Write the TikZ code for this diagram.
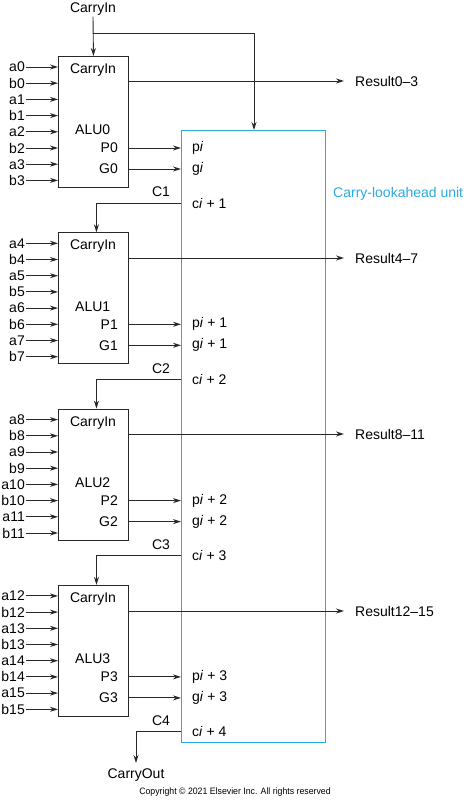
\documentclass[tikz,border=0pt]{standalone}
\usepackage{fontspec}
\setmainfont{Liberation Sans}
\usetikzlibrary{arrows.meta,calc}
\definecolor{clu}{RGB}{41,170,225}
\definecolor{ln}{RGB}{40,40,40}
\begin{document}
\begin{tikzpicture}[x=1pt,y=-1pt,
  every node/.style={font=\fontsize{14}{16}\selectfont, inner sep=1pt},
  wire/.style={draw=ln, line width=0.9pt},
  arr/.style={wire, -{Stealth[length=8pt,width=5pt]}},
  alubox/.style={draw=ln, line width=0.9pt, minimum width=70pt, minimum height=131pt, anchor=north west, inner sep=0pt},
  clubox/.style={draw=clu, line width=1.3pt, minimum width=144pt, minimum height=612pt, anchor=north west, inner sep=0pt},
  inlbl/.style={anchor=east},
  clulbl/.style={anchor=west},
]
\useasboundingbox (0,0) rectangle (469,800);

% carry-lookahead unit
\node[clubox] (clu) at (181,130) {};
\node[anchor=west, text=clu] (clutitle) at (332,194) {Carry-lookahead unit};

% top carry in
\node (cin) at (93,9) {CarryIn};
\coordinate (br) at (93,33);
\coordinate (cluin) at (254,130);

\foreach \k in {0,1,2,3} {
  \pgfmathsetmacro\T{56+176.3*\k}
  \node[alubox] (alu\k) at (58,\T) {};
  \node (ci\k) at (93,\T+14) {CarryIn};
  \node[anchor=west] (name\k) at (74,\T+74) {ALU\k};
  \node[anchor=east] (P\k) at (119,\T+92) {P\k};
  \node[anchor=east] (G\k) at (119,\T+113) {G\k};
  % inputs
  \foreach \i in {0,1,2,3} {
    \pgfmathtruncatemacro\n{4*\k+\i}
    \node[inlbl] (a\n) at (26,\T+11+32.4*\i) {a\n};
    \node[inlbl] (b\n) at (26,\T+27.2+32.4*\i) {b\n};
    \draw[arr] (a\n.east) -- (a\n.east -| alu\k.west);
    \draw[arr] (b\n.east) -- (b\n.east -| alu\k.west);
  }
  % clu labels
  \pgfmathtruncatemacro\m{\k+1}
  \ifnum\k=0
    \node[clulbl] (p\k) at (191,\T+92) {p\textit{i}};
    \node[clulbl] (g\k) at (191,\T+113) {g\textit{i}};
  \else
    \node[clulbl] (p\k) at (191,\T+92) {p\textit{i} + \k};
    \node[clulbl] (g\k) at (191,\T+113) {g\textit{i} + \k};
  \fi
  \node[clulbl] (c\k) at (191,\T+147) {c\textit{i} + \m};
  \node (C\k) at (161,\T+136) {C\m};
  \draw[arr] (alu\k.east |- P\k) -- (clu.west |- P\k);
  \draw[arr] (alu\k.east |- G\k) -- (clu.west |- G\k);
}

% results
\node[anchor=west] (res0) at (354,81) {Result0–3};
\node[anchor=west] (res1) at (354,258) {Result4–7};
\node[anchor=west] (res2) at (354,434) {Result8–11};
\node[anchor=west] (res3) at (354,611) {Result12–15};
\foreach \k in {0,1,2,3} {
  \draw[arr, shorten >=10pt] (alu\k.east |- res\k) -- (res\k.west);
}

% carry chain
\draw[arr] (cin.south) -- (alu0.north);
\draw[arr] (br) -| (cluin);
\draw[arr] (clu.west |- c0) -| ($(alu1.north)+(3,0)$);
\draw[arr] (clu.west |- c1) -| ($(alu2.north)+(3,0)$);
\draw[arr] (clu.west |- c2) -| ($(alu3.north)+(3,0)$);
\node (cout) at (136,775) {CarryOut};
\coordinate (coutin) at (136,763);
\draw[arr] (clu.west |- c3) -| (coutin);

\node[font=\fontsize{9.3}{11}\selectfont] (copy) at (235,792) {\scalebox{0.94}[1]{Copyright © 2021 Elsevier Inc. All rights reserved}};
\end{tikzpicture}
\end{document}
